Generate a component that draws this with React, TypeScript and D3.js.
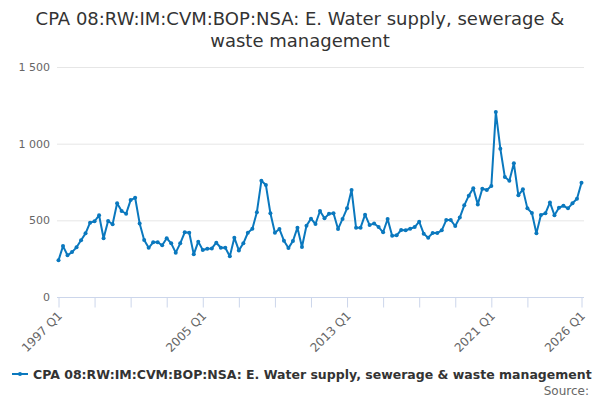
import { useEffect, useRef } from 'react';
import * as d3 from 'd3';

const TITLE_LINES = [
  'CPA 08:RW:IM:CVM:BOP:NSA: E. Water supply, sewerage &',
  'waste management',
];
const SERIES_NAME = 'CPA 08:RW:IM:CVM:BOP:NSA: E. Water supply, sewerage & waste management';

// quarters 1997 Q1 .. 2026 Q1
const years = d3.range(1997, 2027);
const categories: string[] = years.flatMap(y => [1, 2, 3, 4].map(q => `${y} Q${q}`)).slice(0, 117);

const tickLabels = [
  '1997 Q1', '1999 Q1', '2001 Q1', '2003 Q1', '2005 Q1', '2007 Q1', '2009 Q1', '2011 Q1',
  '2013 Q1', '2015 Q1', '2017 Q1', '2019 Q1', '2021 Q1', '2023 Q1', '2026 Q1',
];
const shownLabels = ['1997 Q1', '2005 Q1', '2013 Q1', '2021 Q1', '2026 Q1'];

const yTicks = [0, 500, 1000, 1500];

const values = [
  239, 332, 272, 293, 324, 370, 415, 485, 494, 533,
  383, 496, 474, 611, 561, 543, 632, 647, 480, 372,
  321, 357, 357, 337, 383, 350, 289, 350, 422, 419,
  278, 361, 306, 315, 317, 354, 321, 321, 265, 387,
  304, 350, 419, 445, 553, 758, 730, 546, 419, 443,
  367, 319, 365, 452, 326, 465, 511, 476, 561, 513,
  543, 546, 443, 509, 578, 698, 451, 452, 537, 469,
  480, 456, 422, 509, 400, 402, 437, 435, 445, 456,
  491, 413, 387, 417, 417, 435, 502, 502, 463, 518,
  598, 661, 709, 604, 706, 698, 724, 1206, 967, 782,
  758, 872, 663, 702, 578, 548, 415, 535, 546, 617,
  533, 582, 595, 578, 611, 641, 745,
];

const COLOR = '#0a78be';
const FONT = '"DejaVu Sans", sans-serif';

export default function App() {
  const svgRef = useRef<SVGSVGElement>(null);

  useEffect(() => {
    if (!svgRef.current) return;
    const width = 600;
    const height = 400;
    const plot = { left: 57, right: 584, top: 67, bottom: 297 };

    const svg = d3.select(svgRef.current);
    svg.selectAll('*').remove();
    svg.attr('width', width).attr('height', height);

    svg.append('rect').attr('width', width).attr('height', height).attr('fill', '#fff');

    const x = d3.scalePoint<string>()
      .domain(categories)
      .range([58.5, 581.5]);

    const y = d3.scaleLinear()
      .domain([0, 1500])
      .range([plot.bottom, plot.top]);

    const locale = d3.formatLocale({ decimal: '.', thousands: ' ', grouping: [3], currency: ['', ''] });
    const fmt = locale.format(',d');

    // title
    svg.append('text')
      .attr('x', width / 2)
      .attr('text-anchor', 'middle')
      .style('font-family', FONT)
      .style('font-size', '18px')
      .style('fill', '#333333')
      .selectAll('tspan')
      .data(TITLE_LINES)
      .join('tspan')
      .attr('x', width / 2)
      .attr('y', (_, i) => 25 + i * 22)
      .text(d => d);

    // gridlines
    svg.append('g')
      .selectAll('line')
      .data(yTicks.filter(t => t > 0))
      .join('line')
      .attr('x1', plot.left)
      .attr('x2', plot.right)
      .attr('y1', d => y(d) + 0.5)
      .attr('y2', d => y(d) + 0.5)
      .attr('stroke', '#e6e6e6')
      .attr('stroke-width', 1);

    // y labels
    svg.append('g')
      .selectAll('text')
      .data(yTicks)
      .join('text')
      .attr('x', 50)
      .attr('y', d => y(d) + 4)
      .attr('text-anchor', 'end')
      .style('font-family', FONT)
      .style('font-size', '11px')
      .style('fill', '#666666')
      .text(d => fmt(d));

    // x axis
    const xAxis = d3.axisBottom(x)
      .tickValues(tickLabels)
      .tickSize(10)
      .tickFormat(d => (shownLabels.includes(d) ? d : ''));

    const gx = svg.append('g')
      .attr('transform', `translate(0,${plot.bottom + 0.5})`)
      .call(xAxis);
    gx.select('.domain').remove();
    gx.insert('line', ':first-child')
      .attr('x1', plot.left)
      .attr('x2', plot.right)
      .attr('stroke', '#ccd6eb');
    gx.selectAll('.tick line').attr('stroke', '#ccd6eb');
    gx.selectAll('.tick text')
      .attr('y', 0)
      .attr('dy', 0)
      .attr('transform', 'translate(4,19) rotate(-45)')
      .style('text-anchor', 'end')
      .style('font-family', FONT)
      .style('font-size', '12px')
      .style('fill', '#666666');

    // series
    const line = d3.line<number>()
      .x((_, i) => x(categories[i]) ?? 0)
      .y(d => y(d));

    svg.append('path')
      .datum(values)
      .attr('d', line)
      .attr('fill', 'none')
      .attr('stroke', COLOR)
      .attr('stroke-width', 2)
      .attr('stroke-linejoin', 'round');

    svg.append('g')
      .selectAll('circle')
      .data(values)
      .join('circle')
      .attr('cx', (_, i) => x(categories[i]) ?? 0)
      .attr('cy', d => y(d))
      .attr('r', 2)
      .attr('fill', COLOR);

    // legend
    const lg = svg.append('g');
    lg.append('line')
      .attr('x1', 12).attr('x2', 28)
      .attr('y1', 374).attr('y2', 374)
      .attr('stroke', COLOR)
      .attr('stroke-width', 2);
    lg.append('circle').attr('cx', 20).attr('cy', 374).attr('r', 2).attr('fill', COLOR);
    lg.append('text')
      .attr('x', 33)
      .attr('y', 378.5)
      .style('font-family', FONT)
      .style('font-size', '12.5px')
      .style('font-weight', 'bold')
      .style('fill', '#333333')
      .text(SERIES_NAME);

    svg.append('text')
      .attr('x', 589)
      .attr('y', 395)
      .attr('text-anchor', 'end')
      .style('font-family', FONT)
      .style('font-size', '12px')
      .style('fill', '#666666')
      .text('Source:');
  }, []);

  return (
    <div style={{ position: 'absolute', left: 0, top: 0 }}>
      <svg ref={svgRef}></svg>
    </div>
  );
}
